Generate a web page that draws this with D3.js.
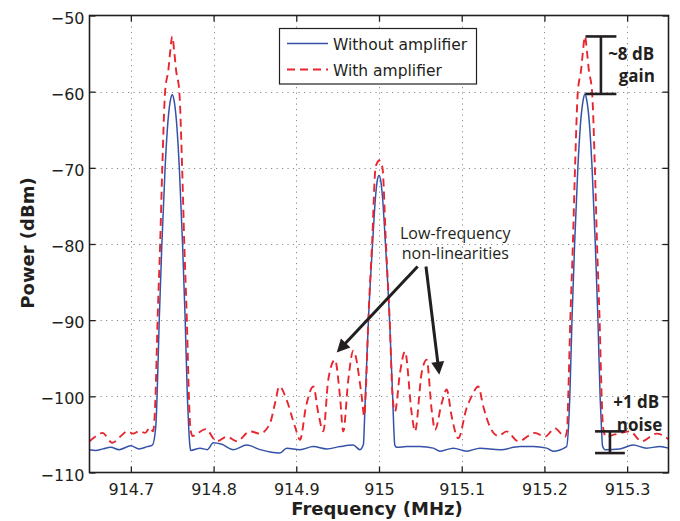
<!DOCTYPE html>
<html><head><meta charset="utf-8">
<script src="https://cdn.jsdelivr.net/npm/d3@7"></script>
<style>
html,body{margin:0;padding:0;background:#fff;}
svg{display:block;}
</style></head>
<body>
<svg id="chart" width="680" height="521"></svg>
<script>
// ---------- DATA ----------
const seriesNames = ["Without amplifier", "With amplifier"];
const xTicks = [914.7, 914.8, 914.9, 915, 915.1, 915.2, 915.3];
const yTicks = [-110, -100, -90, -80, -70, -60, -50];

const freqWithout = [914.6500,914.6576,914.6664,914.6757,914.6858,914.6999,914.7099,914.7200,914.7260,914.7301,
914.7317,914.7343,914.7375,914.7414,914.7450,914.7480,914.7500,914.7520,914.7550,914.7586,
914.7625,914.7657,914.7683,914.7699,914.7712,914.7724,914.7837,914.7925,914.7997,914.8099,
914.8239,914.8401,914.8562,914.8683,914.8803,914.8884,914.9045,914.9206,914.9368,914.9528,
914.9689,914.9770,914.9812,914.9822,914.9835,914.9872,914.9922,914.9958,914.9980,915.0000,
915.0020,915.0042,915.0078,915.0128,915.0165,915.0178,915.0191,915.0217,915.0335,915.0495,
915.0656,915.0737,915.0898,915.1060,915.1220,915.1462,915.1704,915.1864,915.2027,915.2106,
915.2268,915.2291,915.2307,915.2333,915.2365,915.2404,915.2440,915.2470,915.2490,915.2510,
915.2540,915.2576,915.2615,915.2647,915.2673,915.2689,915.2702,915.2731,915.2912,915.3073,
915.3235,915.3396,915.3500];
const powerWithout = [-107.0,-107.1,-106.9,-106.7,-107.0,-106.5,-106.9,-106.6,-106.4,-104.0,
-100.0,-90.0,-80.0,-70.0,-63.7,-61.0,-60.4,-61.0,-63.7,-70.0,
-80.0,-90.0,-100.0,-104.0,-106.3,-107.1,-106.8,-107.0,-106.1,-106.3,
-107.0,-106.4,-107.0,-107.3,-107.45,-106.8,-107.0,-106.6,-106.9,-106.6,
-106.4,-107.0,-106.3,-104.0,-100.0,-90.0,-80.0,-73.8,-71.6,-71.0,
-71.6,-73.8,-80.0,-90.0,-100.0,-104.0,-106.4,-106.7,-106.6,-106.6,
-106.8,-107.2,-106.8,-107.2,-106.8,-107.0,-106.6,-106.6,-106.8,-107.2,
-106.6,-104.0,-100.0,-90.0,-80.0,-70.0,-63.7,-61.0,-60.3,-61.0,
-63.7,-70.0,-80.0,-90.0,-100.0,-104.0,-106.5,-107.0,-106.9,-106.4,
-106.8,-106.6,-106.8];

const freqWith = [914.6500,914.6568,914.6656,914.6777,914.6870,914.6958,914.7027,914.7099,914.7172,914.7232,
914.7269,914.7298,914.7323,914.7354,914.7380,914.7414,914.7454,914.7474,914.7500,914.7526,
914.7546,914.7586,914.7620,914.7646,914.7677,914.7702,914.7718,914.7744,914.7905,914.8038,
914.8163,914.8280,914.8441,914.8562,914.8683,914.8743,914.8795,914.8884,914.8985,914.9045,
914.9118,914.9206,914.9266,914.9327,914.9387,914.9468,914.9528,914.9568,914.9629,914.9689,
914.9791,914.9822,914.9838,914.9871,914.9916,914.9958,914.9980,915.0000,915.0020,915.0042,
915.0084,915.0129,915.0164,915.0193,915.0254,915.0314,915.0395,915.0435,915.0516,915.0576,
915.0637,915.0677,915.0758,915.0818,915.0878,915.0958,915.1060,915.1120,915.1200,915.1260,
915.1341,915.1442,915.1543,915.1683,915.1885,915.2006,915.2127,915.2248,915.2275,915.2288,
915.2313,915.2344,915.2370,915.2404,915.2444,915.2464,915.2490,915.2516,915.2536,915.2576,
915.2610,915.2636,915.2667,915.2692,915.2708,915.2743,915.2852,915.3033,915.3175,915.3356,
915.3500];
const powerWith = [-105.9,-105.3,-104.8,-106.1,-105.3,-104.6,-104.9,-104.6,-104.8,-104.1,
-104.6,-100.0,-90.0,-80.0,-70.0,-60.0,-57.1,-54.9,-52.75,-54.9,
-57.1,-60.0,-70.0,-80.0,-90.0,-100.0,-104.0,-105.2,-104.3,-105.9,
-105.3,-105.9,-104.6,-104.9,-103.5,-100.9,-98.7,-100.5,-104.0,-105.7,
-101.3,-98.7,-102.2,-104.6,-97.8,-95.2,-100.0,-104.6,-97.8,-94.0,
-100.0,-102.6,-100.0,-90.0,-80.0,-70.0,-69.3,-69.0,-69.3,-70.0,
-80.0,-90.0,-100.0,-102.0,-96.9,-94.1,-102.2,-104.6,-96.9,-95.2,
-101.8,-104.4,-100.9,-99.1,-102.6,-105.5,-101.5,-100.0,-98.7,-101.3,
-104.0,-105.2,-104.6,-105.9,-104.8,-105.3,-104.2,-105.3,-104.3,-100.0,
-90.0,-80.0,-70.0,-60.0,-57.1,-54.9,-52.75,-54.9,-57.1,-60.0,
-70.0,-80.0,-90.0,-100.0,-104.0,-105.3,-105.0,-104.6,-105.9,-104.9,
-105.6];

// ---------- SETUP ----------
const svg = d3.select("#chart");
const L = 89.5, R = 668.5, T = 15.5, B = 472.5;
const x = d3.scaleLinear().domain([914.65, 915.35]).range([L, R]);
const y = d3.scaleLinear().domain([-110, -50]).range([B, T]);
const BLUE = "#3452a8", RED = "#e8262f", INK = "#231f20";

svg.append("defs").append("clipPath").attr("id","clip")
  .append("rect").attr("x",L).attr("y",T).attr("width",R-L).attr("height",B-T);

// grid
const grid = svg.append("g").attr("stroke","#8a8a8a").attr("stroke-width",1)
  .attr("stroke-dasharray","1.2,4.3");
grid.selectAll("line.v").data(xTicks).join("line")
  .attr("x1",d=>Math.round(x(d))+0.5).attr("x2",d=>Math.round(x(d))+0.5)
  .attr("y1",T).attr("y2",B);
grid.selectAll("line.h").data(yTicks.filter(d=>d>-110&&d<-50)).join("line")
  .attr("y1",d=>Math.round(y(d))+0.5).attr("y2",d=>Math.round(y(d))+0.5)
  .attr("x1",L).attr("x2",R);

// lines
const line = d3.line().x(d=>x(d[0])).y(d=>y(d[1])).curve(d3.curveMonotoneX);
const dataWithout = freqWithout.map((f,i)=>[f, powerWithout[i]]);
const dataWith = freqWith.map((f,i)=>[f, powerWith[i]]);
const plot = svg.append("g").attr("clip-path","url(#clip)");
plot.append("path").datum(dataWithout).attr("d",line)
  .attr("fill","none").attr("stroke",BLUE).attr("stroke-width",1.5);
plot.append("path").datum(dataWith).attr("d",line)
  .attr("fill","none").attr("stroke",RED).attr("stroke-width",1.9)
  .attr("stroke-dasharray","8,5");

// axes
const fmtX = d => String(+(+d).toFixed(1));
const axB = svg.append("g").attr("transform",`translate(0,${B})`)
  .call(d3.axisBottom(x).tickValues(xTicks).tickSizeInner(-6).tickSizeOuter(0).tickFormat(fmtX));
axB.selectAll("text").attr("y",22).attr("dy",0);
const axT = svg.append("g").attr("transform",`translate(0,${T})`)
  .call(d3.axisTop(x).tickValues(xTicks).tickSizeInner(-6).tickSizeOuter(0).tickFormat(""));
const axL = svg.append("g").attr("transform",`translate(${L},0)`)
  .call(d3.axisLeft(y).tickValues(yTicks).tickSizeInner(-6).tickSizeOuter(0));
axL.selectAll("text").attr("x",-5).attr("dy",7.5);
const axR = svg.append("g").attr("transform",`translate(${R},0)`)
  .call(d3.axisRight(y).tickValues(yTicks).tickSizeInner(-6).tickSizeOuter(0).tickFormat(""));
[axB,axT,axL,axR].forEach(a=>{
  a.select(".domain").remove();
  a.selectAll(".tick line").attr("stroke",INK).attr("stroke-width",1.3);
  a.selectAll("text").attr("font-family","'DejaVu Sans', sans-serif").attr("font-size",16).attr("fill",INK);
});
svg.append("rect").attr("x",L).attr("y",T).attr("width",R-L).attr("height",B-T)
  .attr("fill","none").attr("stroke",INK).attr("stroke-width",1.6);

// axis titles
svg.append("text").attr("x",(L+R)/2-2).attr("y",515).attr("text-anchor","middle")
  .attr("font-family","'DejaVu Sans', sans-serif").attr("font-weight","bold").attr("font-size",18)
  .attr("fill",INK).text("Frequency (MHz)");
svg.append("text").attr("transform","translate(33.5,243) rotate(-90)").attr("text-anchor","middle")
  .attr("font-family","'DejaVu Sans', sans-serif").attr("font-weight","bold").attr("font-size",18)
  .attr("fill",INK).text("Power (dBm)");

// legend
const lg = svg.append("g");
lg.append("rect").attr("x",279.5).attr("y",28.5).attr("width",197).attr("height",55.5)
  .attr("fill","#fff").attr("stroke",INK).attr("stroke-width",1.2);
lg.append("line").attr("x1",287).attr("x2",328).attr("y1",43.5).attr("y2",43.5)
  .attr("stroke",BLUE).attr("stroke-width",1.5);
lg.append("line").attr("x1",287).attr("x2",328).attr("y1",69.5).attr("y2",69.5)
  .attr("stroke",RED).attr("stroke-width",1.9).attr("stroke-dasharray","8,5");
lg.selectAll("text").data(seriesNames).join("text")
  .attr("x",333).attr("y",(d,i)=>49.5+i*26)
  .attr("font-family","'DejaVu Sans', sans-serif").attr("font-size",15.5).attr("fill",INK)
  .text(d=>d);

// annotations
const ann = svg.append("g");
function bracket(f, top, bot, half){
  ann.append("line").attr("x1",x(f)).attr("x2",x(f)).attr("y1",y(top)).attr("y2",y(bot))
    .attr("stroke",INK).attr("stroke-width",2.6);
  [top,bot].forEach(v=>ann.append("line").attr("x1",x(f-half)).attr("x2",x(f+half))
    .attr("y1",y(v)).attr("y2",y(v)).attr("stroke",INK).attr("stroke-width",2.6));
}
bracket(915.2683, -52.75, -60.3, 0.0187);
bracket(915.2792, -104.6, -107.45, 0.018);
function label(f, v, txt, bold, size, anchor){
  ann.append("text").attr("x",x(f)).attr("y",y(v)).attr("text-anchor",anchor)
    .attr("font-family","'Open Sans', sans-serif").attr("font-weight",bold?"bold":"normal").attr("font-size",size)
    .attr("fill",INK).text(txt);
}
label(915.3327, -55.9, "~8 dB", true, 17, "end");
label(915.3336, -58.75, "gain", true, 17, "end");
label(915.3388, -101.55, "+1 dB", true, 17, "end");
label(915.3424, -104.5, "noise", true, 17, "end");
label(915.0922, -79.3, "Low-frequency", false, 16, "middle");
label(915.0922, -82.0, "non-linearities", false, 16, "middle");

function arrow(f0, v0, f1, v1){
  const x0=x(f0), y0=y(v0), x1=x(f1), y1=y(v1);
  const dx=x1-x0, dy=y1-y0, len=Math.hypot(dx,dy), ux=dx/len, uy=dy/len;
  const hl=13, hw=6.5;
  const bx=x1-ux*hl, by=y1-uy*hl;
  ann.append("line").attr("x1",x0).attr("y1",y0).attr("x2",bx+ux*2).attr("y2",by+uy*2)
    .attr("stroke",INK).attr("stroke-width",3);
  ann.append("path").attr("d",`M${x1},${y1}L${bx-uy*hw},${by+ux*hw}L${bx+uy*hw},${by-ux*hw}Z`)
    .attr("fill",INK);
}
arrow(915.0467, -82.95, 914.9489, -94.24);
arrow(915.0568, -82.95, 915.0729, -97.17);
</script>
</body></html>
